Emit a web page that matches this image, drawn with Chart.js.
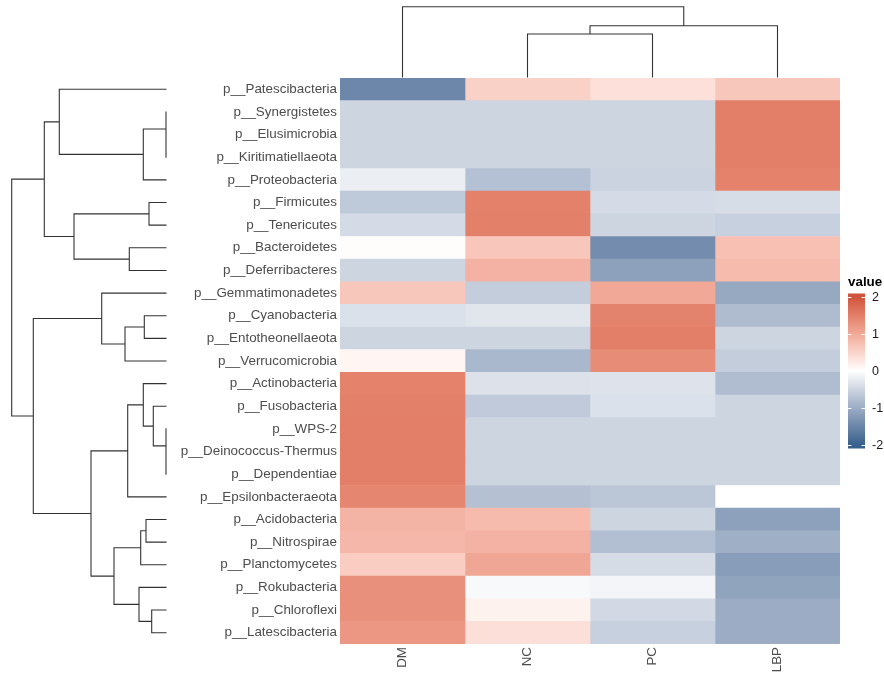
<!DOCTYPE html>
<html>
<head>
<meta charset="utf-8">
<script src="https://cdn.jsdelivr.net/npm/chart.js@4/dist/chart.umd.min.js"></script>
<style>html,body{margin:0;padding:0;background:#ffffff;}canvas{display:block;}</style>
</head>
<body>
<canvas id="c" width="884" height="673"></canvas>
<script>
// ---------- data ----------
const rows = [
  'p__Patescibacteria','p__Synergistetes','p__Elusimicrobia','p__Kiritimatiellaeota','p__Proteobacteria',
  'p__Firmicutes','p__Tenericutes','p__Bacteroidetes','p__Deferribacteres','p__Gemmatimonadetes',
  'p__Cyanobacteria','p__Entotheonellaeota','p__Verrucomicrobia','p__Actinobacteria','p__Fusobacteria',
  'p__WPS-2','p__Deinococcus-Thermus','p__Dependentiae','p__Epsilonbacteraeota','p__Acidobacteria',
  'p__Nitrospirae','p__Planctomycetes','p__Rokubacteria','p__Chloroflexi','p__Latescibacteria'
];
const columns = ['DM', 'NC', 'PC', 'LBP'];
const DM  = [-1.48,-0.5,-0.5,-0.5,-0.2,-0.65,-0.43,0.03,-0.5,0.65,-0.36,-0.5,0.1,1.47,1.49,1.5,1.5,1.5,1.42,0.88,0.84,0.58,1.3,1.3,1.22];
const NC  = [0.54,-0.5,-0.5,-0.5,-0.75,1.48,1.49,0.67,0.9,-0.6,-0.3,-0.5,-0.85,-0.35,-0.63,-0.5,-0.5,-0.5,-0.74,0.8,0.9,1.05,-0.07,0.15,0.37];
const PC  = [0.36,-0.5,-0.5,-0.5,-0.52,-0.43,-0.5,-1.4,-1.15,1.02,1.46,1.5,1.35,-0.33,-0.36,-0.5,-0.5,-0.5,-0.68,-0.5,-0.77,-0.42,-0.12,-0.45,-0.56];
const LBP = [0.66,1.5,1.5,1.5,1.47,-0.4,-0.56,0.74,0.8,-1.05,-0.8,-0.5,-0.6,-0.79,-0.5,-0.5,-0.5,-0.5,0.0,-1.14,-0.97,-1.2,-1.11,-1.0,-1.0];
const legendTicks = [2, 1, 0, -1, -2];

// hclust-style merges: negative = leaf (1-based), positive = earlier merge (1-based)
const rowMerge = [
  [-3,-4],[-2,1],[2,-5],[-1,3],[-6,-7],[-8,-9],[5,6],[4,7],
  [-11,-12],[9,-13],[-10,10],[-17,-18],[-16,12],[-15,13],[-14,14],[15,-19],
  [-20,-21],[17,-22],[-24,-25],[-23,19],[18,20],[16,21],[11,22],[8,23]
];
const rowHeight = [0,0,22.7,106.7,17,36.7,92,121.7,21.7,41,64.3,0,0,12.7,22.7,38.3,20,25.3,14.3,27,52,75,132.7,154.3];
const colMerge = [[-2,-3],[1,-4],[-1,2]];
const colHeight = [43,51.3,70.3];

// ---------- colours (Lab interpolation, diverging around 0) ----------
const LOW = '#35618C', MID = '#FFFFFF', HIGH = '#D0533C';
function hexToRgb(h) { return [1,3,5].map(i => parseInt(h.substr(i, 2), 16)); }
function toLin(c) { c /= 255; return c <= 0.04045 ? c / 12.92 : Math.pow((c + 0.055) / 1.055, 2.4); }
function fromLin(c) { c = c <= 0.0031308 ? 12.92 * c : 1.055 * Math.pow(c, 1 / 2.4) - 0.055; return Math.max(0, Math.min(255, Math.round(c * 255))); }
const WX = 0.95047, WY = 1, WZ = 1.08883;
function rgbToLab(rgb) {
  const [r, g, b] = rgb.map(toLin);
  const X = 0.4124 * r + 0.3576 * g + 0.1805 * b;
  const Y = 0.2126 * r + 0.7152 * g + 0.0722 * b;
  const Z = 0.0193 * r + 0.1192 * g + 0.9505 * b;
  const f = t => t > 0.008856 ? Math.cbrt(t) : 7.787 * t + 16 / 116;
  const fx = f(X / WX), fy = f(Y / WY), fz = f(Z / WZ);
  return [116 * fy - 16, 500 * (fx - fy), 200 * (fy - fz)];
}
function labToRgb(lab) {
  const fy = (lab[0] + 16) / 116, fx = fy + lab[1] / 500, fz = fy - lab[2] / 200;
  const inv = t => t * t * t > 0.008856 ? t * t * t : (t - 16 / 116) / 7.787;
  const X = WX * inv(fx), Y = WY * inv(fy), Z = WZ * inv(fz);
  const r = 3.2406 * X - 1.5372 * Y - 0.4986 * Z;
  const g = -0.9689 * X + 1.8758 * Y + 0.0415 * Z;
  const b = 0.0557 * X - 0.2040 * Y + 1.0570 * Z;
  return [fromLin(r), fromLin(g), fromLin(b)];
}
const LAB_LOW = rgbToLab(hexToRgb(LOW)), LAB_MID = rgbToLab(hexToRgb(MID)), LAB_HIGH = rgbToLab(hexToRgb(HIGH));
function colorFor(v) {
  const t = Math.min(Math.abs(v) / 2, 1);
  const end = v >= 0 ? LAB_HIGH : LAB_LOW;
  const lab = LAB_MID.map((m, i) => m + t * (end[i] - m));
  const c = labToRgb(lab);
  return `rgb(${c[0]},${c[1]},${c[2]})`;
}

const FONT = '"Liberation Sans", Arial, Helvetica, sans-serif';
const values = [DM, NC, PC, LBP];

const datasets = columns.map((col, c) => ({
  label: col,
  data: rows.map(() => [c, c + 1]),
  backgroundColor: values[c].map(colorFor),
  borderWidth: 0,
  grouped: false,
  barPercentage: 1,
  categoryPercentage: 1
}));

// ---------- dendrogram plugin ----------
function drawDendro(ctx, merges, heights, leafPos, hToPix, horizontal) {
  const nodes = [];
  const pos = (id) => id < 0 ? {p: leafPos(-id - 1), h: 0} : nodes[id - 1];
  ctx.beginPath();
  merges.forEach((m, k) => {
    const a = pos(m[0]), b = pos(m[1]);
    const h = heights[k];
    const hp = hToPix(h);
    if (horizontal) {
      ctx.moveTo(hToPix(a.h), a.p); ctx.lineTo(hp, a.p);
      ctx.lineTo(hp, b.p); ctx.lineTo(hToPix(b.h), b.p);
    } else {
      ctx.moveTo(a.p, hToPix(a.h)); ctx.lineTo(a.p, hp);
      ctx.lineTo(b.p, hp); ctx.lineTo(b.p, hToPix(b.h));
    }
    nodes.push({p: (a.p + b.p) / 2, h: h});
  });
  ctx.stroke();
}

const dendroPlugin = {
  id: 'dendro',
  afterDraw(chart) {
    const ctx = chart.ctx;
    const xs = chart.scales.x, ys = chart.scales.y;
    const area = chart.chartArea;
    ctx.save();
    ctx.strokeStyle = '#333333';
    ctx.lineWidth = 1.1;
    ctx.lineCap = 'square';
    // row dendrogram (left)
    const rowLeafX = 166, rowWidth = 154.3;
    const rMax = Math.max(...rowHeight);
    drawDendro(ctx, rowMerge, rowHeight, i => ys.getPixelForValue(i),
      h => rowLeafX - h / rMax * rowWidth, true);
    // column dendrogram (top)
    const colLeafY = area.top - 1, colTall = 70.3;
    const cMax = Math.max(...colHeight);
    drawDendro(ctx, colMerge, colHeight, i => xs.getPixelForValue(i + 0.5),
      h => colLeafY - h / cMax * colTall, false);
    ctx.restore();
  }
};

// ---------- colour legend plugin ----------
const legendPlugin = {
  id: 'colorLegend',
  afterDraw(chart) {
    const ctx = chart.ctx;
    const x0 = 848, w = 17, yZero = 371, unit = 37;
    const top = yZero - 2 * unit - 3.5, bottom = yZero + 2 * unit + 3.5;
    ctx.save();
    ctx.fillStyle = '#000';
    ctx.font = `bold 13.4px ${FONT}`;
    ctx.textAlign = 'left';
    ctx.textBaseline = 'middle';
    ctx.fillText('value', x0, 282);
    const g = ctx.createLinearGradient(0, top, 0, bottom);
    const steps = 40;
    for (let s = 0; s <= steps; s++) {
      const y = top + (bottom - top) * s / steps;
      const v = Math.max(-2, Math.min(2, (yZero - y) / unit));
      g.addColorStop(s / steps, colorFor(v));
    }
    ctx.fillStyle = g;
    ctx.fillRect(x0, top, w, bottom - top);
    ctx.strokeStyle = '#ffffff';
    ctx.lineWidth = 1;
    ctx.fillStyle = '#1a1a1a';
    ctx.font = `12.5px ${FONT}`;
    legendTicks.forEach(v => {
      const y = Math.round(yZero - v * unit) + 0.5;
      ctx.beginPath();
      ctx.moveTo(x0, y); ctx.lineTo(x0 + w / 5, y);
      ctx.moveTo(x0 + w - w / 5, y); ctx.lineTo(x0 + w, y);
      ctx.stroke();
      ctx.fillText(String(v), 872, y);
    });
    ctx.restore();
  }
};

new Chart(document.getElementById('c'), {
  type: 'bar',
  data: { labels: rows, datasets: datasets },
  options: {
    indexAxis: 'y',
    responsive: false,
    animation: false,
    devicePixelRatio: 1,
    events: [],
    layout: { padding: { top: 78, right: 44, left: 0, bottom: 0 } },
    plugins: { legend: { display: false }, tooltip: { enabled: false }, title: { display: false } },
    scales: {
      y: {
        type: 'category',
        position: 'left',
        offset: true,
        grid: { display: false, drawTicks: false },
        border: { display: false },
        ticks: { color: '#4d4d4d', font: { family: FONT, size: 13.4 }, padding: 3, autoSkip: false },
        afterFit(scale) { scale.width = 340; }
      },
      x: {
        type: 'linear',
        position: 'bottom',
        min: 0,
        max: columns.length,
        grid: { display: false, drawTicks: false },
        border: { display: false },
        afterBuildTicks(scale) { scale.ticks = columns.map((_, i) => ({ value: i + 0.5 })); },
        ticks: {
          color: '#4d4d4d',
          font: { family: FONT, size: 13.4 },
          padding: 3,
          autoSkip: false,
          minRotation: 90,
          maxRotation: 90,
          callback: (v, i) => columns[i]
        },
        afterFit(scale) { scale.height = 29; }
      }
    }
  },
  plugins: [dendroPlugin, legendPlugin]
});
</script>
</body>
</html>
